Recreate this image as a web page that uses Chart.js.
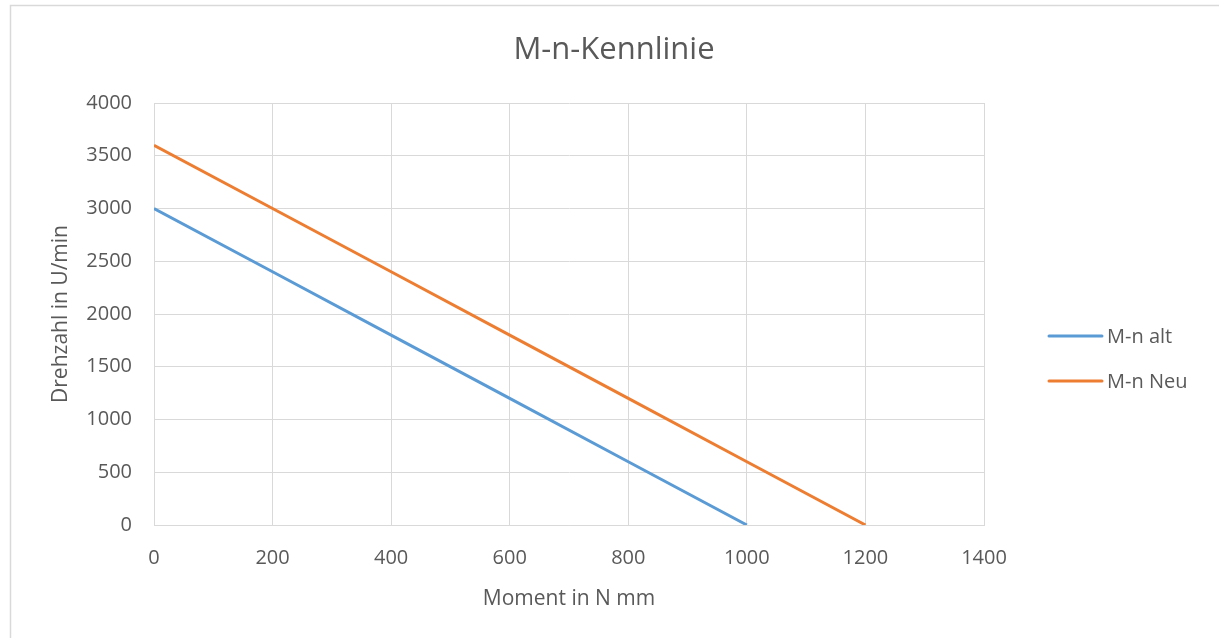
<!DOCTYPE html>
<html>
<head>
<meta charset="utf-8">
<script src="https://cdn.jsdelivr.net/npm/chart.js@4"></script>
<style>
  html, body { margin: 0; padding: 0; background: #fff; overflow: hidden; }
  #wrap { width: 1219px; height: 638px; position: relative; }
  canvas { display: block; }
</style>
</head>
<body>
<div id="wrap"><canvas id="chart" width="1219" height="638"></canvas></div>
<script>
// Werte
const MOMENT_ALT = [0, 200, 400, 600, 800, 1000];
const DREHZAHL_ALT = [3000, 2400, 1800, 1200, 600, 0];
const MOMENT_NEU = [0, 200, 400, 600, 800, 1000, 1200];
const DREHZAHL_NEU = [3600, 3000, 2400, 1800, 1200, 600, 0];
const SERIEN = ["M-n alt", "M-n Neu"];
const FARBEN = ["#5B9BD5", "#ED7D31"];

const TITEL = "M-n-Kennlinie";
const X_TITEL = "Moment in N mm";
const Y_TITEL = "Drehzahl in U/min";

const FONT = "'Open Sans', sans-serif";
const TEXT_FARBE = "#595959";
const GITTER = "#D9D9D9";

function punkte(xs, ys) {
  return xs.map((x, i) => ({ x: x, y: ys[i] }));
}

// Titel, Rahmen und Legende zeichnen
const extras = {
  id: "extras",
  beforeDraw(chart) {
    const ctx = chart.ctx;
    ctx.save();
    ctx.strokeStyle = GITTER;
    ctx.lineWidth = 1.5;
    ctx.strokeRect(10.5, 5.5, 1400, 800);
    ctx.restore();
  },
  afterDraw(chart) {
    const ctx = chart.ctx;
    ctx.save();
    ctx.fillStyle = TEXT_FARBE;
    ctx.font = "31px " + FONT;
    ctx.textAlign = "center";
    ctx.textBaseline = "middle";
    ctx.fillText(TITEL, 614, 50);

    ctx.font = "20px " + FONT;
    ctx.textAlign = "left";
    chart.data.datasets.forEach((ds, i) => {
      const y = 336 + i * 45;
      ctx.strokeStyle = ds.borderColor;
      ctx.lineWidth = 3;
      ctx.lineCap = "round";
      ctx.beginPath();
      ctx.moveTo(1049, y);
      ctx.lineTo(1102, y);
      ctx.stroke();
      ctx.fillStyle = TEXT_FARBE;
      ctx.fillText(ds.label, 1107, y + 1);
    });
    ctx.restore();
  }
};

const zahl = v => String(v);

new Chart(document.getElementById("chart"), {
  type: "scatter",
  data: {
    datasets: [
      { label: SERIEN[0], data: punkte(MOMENT_ALT, DREHZAHL_ALT), borderColor: FARBEN[0], backgroundColor: FARBEN[0] },
      { label: SERIEN[1], data: punkte(MOMENT_NEU, DREHZAHL_NEU), borderColor: FARBEN[1], backgroundColor: FARBEN[1] }
    ]
  },
  options: {
    responsive: false,
    animation: false,
    showLine: true,
    elements: {
      line: { borderWidth: 3, tension: 0 },
      point: { radius: 0 }
    },
    layout: { padding: { top: 103, right: 235, left: 0, bottom: 0 } },
    plugins: {
      legend: { display: false },
      title: { display: false },
      tooltip: { enabled: false }
    },
    scales: {
      x: {
        type: "linear",
        min: 0,
        max: 1400,
        ticks: { stepSize: 200, color: TEXT_FARBE, font: { family: FONT, size: 20 }, padding: 21, maxRotation: 0, callback: zahl },
        grid: { color: GITTER, drawTicks: false },
        border: { color: GITTER },
        title: { display: true, text: X_TITEL, color: TEXT_FARBE, font: { family: FONT, size: 21 }, padding: { top: 0, bottom: 26 } },
        afterFit(scale) { scale.height = 113; }
      },
      y: {
        type: "linear",
        min: 0,
        max: 4000,
        ticks: { stepSize: 500, color: TEXT_FARBE, font: { family: FONT, size: 20 }, padding: 22, callback: zahl },
        grid: { color: GITTER, drawTicks: false },
        border: { color: GITTER },
        title: { display: true, text: Y_TITEL, color: TEXT_FARBE, font: { family: FONT, size: 21 }, padding: { top: 48, bottom: 0 } },
        afterFit(scale) { scale.width = 154; }
      }
    }
  },
  plugins: [extras]
});
</script>
</body>
</html>
